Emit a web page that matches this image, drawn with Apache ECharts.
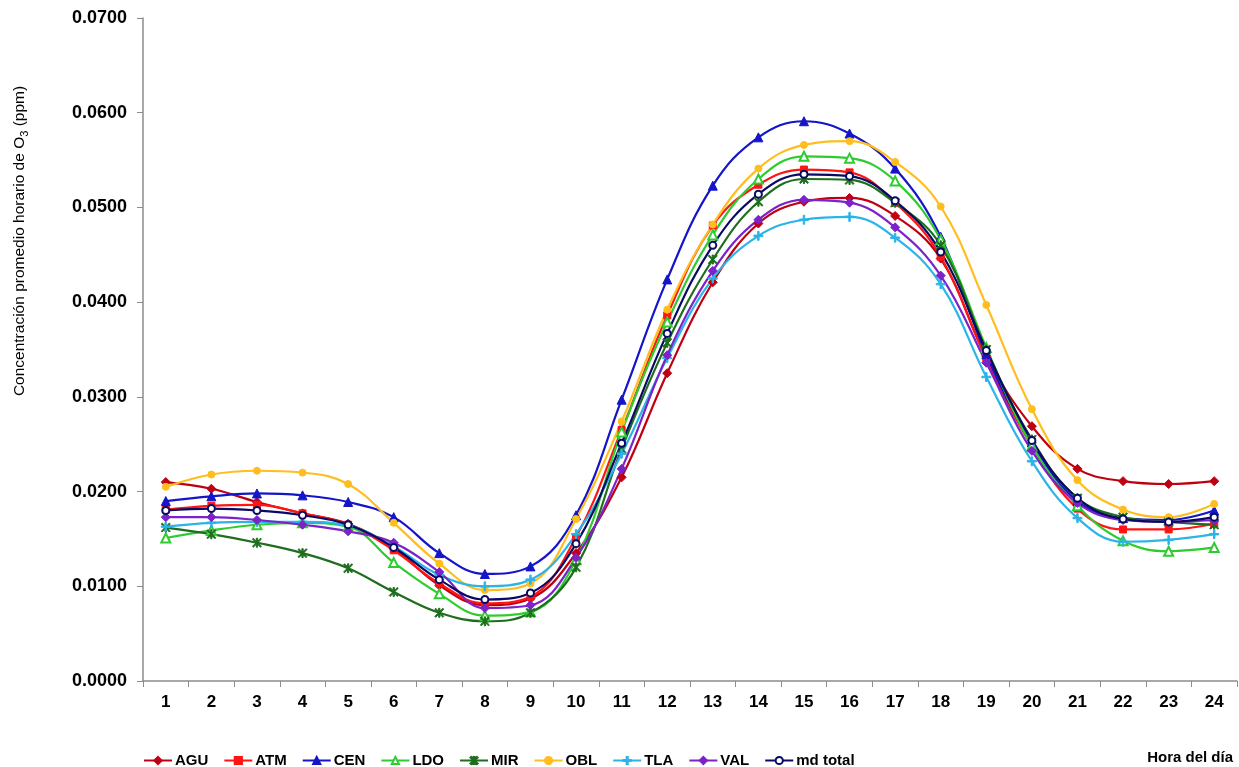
<!DOCTYPE html>
<html>
<head>
<meta charset="utf-8">
<script src="https://cdn.jsdelivr.net/npm/echarts@6/dist/echarts.min.js"></script>
<style>
html,body{margin:0;padding:0;background:#fff;}
#chart{width:1239px;height:767px;}
</style>
</head>
<body>
<div id="chart"></div>
<script>
const hours = ['1','2','3','4','5','6','7','8','9','10','11','12','13','14','15','16','17','18','19','20','21','22','23','24'];
const yTicks = [0, 0.01, 0.02, 0.03, 0.04, 0.05, 0.06, 0.07];

const AGU = [0.0210,0.0203,0.0189,0.0177,0.0166,0.0140,0.0101,0.0080,0.0087,0.0135,0.0215,0.0325,0.0421,0.0483,0.0506,0.0510,0.0491,0.0446,0.0343,0.0269,0.0224,0.0211,0.0208,0.0211];
const ATM = [0.0181,0.0185,0.0186,0.0177,0.0165,0.0138,0.0103,0.0082,0.0089,0.0152,0.0265,0.0386,0.0481,0.0524,0.0540,0.0537,0.0505,0.0448,0.0340,0.0248,0.0182,0.0160,0.0160,0.0166];
const CEN = [0.0190,0.0195,0.0198,0.0196,0.0189,0.0173,0.0135,0.0113,0.0121,0.0175,0.0297,0.0424,0.0523,0.0574,0.0591,0.0578,0.0541,0.0469,0.0345,0.0252,0.0190,0.0172,0.0170,0.0180];
const LDO = [0.0151,0.0159,0.0165,0.0167,0.0163,0.0125,0.0092,0.0069,0.0073,0.0128,0.0263,0.0379,0.0471,0.0530,0.0554,0.0552,0.0528,0.0466,0.0352,0.0248,0.0185,0.0148,0.0137,0.0141];
const MIR = [0.0162,0.0155,0.0146,0.0135,0.0119,0.0094,0.0072,0.0063,0.0072,0.0120,0.0245,0.0357,0.0445,0.0506,0.0530,0.0529,0.0505,0.0460,0.0350,0.0255,0.0193,0.0173,0.0168,0.0165];
const OBL = [0.0205,0.0218,0.0222,0.0220,0.0208,0.0167,0.0124,0.0096,0.0103,0.0171,0.0274,0.0392,0.0482,0.0541,0.0566,0.0570,0.0548,0.0501,0.0397,0.0287,0.0212,0.0181,0.0173,0.0187];
const TLA = [0.0163,0.0167,0.0168,0.0168,0.0164,0.0142,0.0112,0.0100,0.0107,0.0155,0.0240,0.0341,0.0425,0.0470,0.0487,0.0490,0.0468,0.0419,0.0321,0.0232,0.0172,0.0147,0.0149,0.0155];
const VAL = [0.0173,0.0173,0.0170,0.0165,0.0158,0.0146,0.0115,0.0077,0.0080,0.0130,0.0224,0.0344,0.0433,0.0487,0.0508,0.0505,0.0479,0.0428,0.0336,0.0243,0.0188,0.0170,0.0168,0.0170];
const MD_TOTAL = [0.0180,0.0182,0.0180,0.0175,0.0165,0.0141,0.0107,0.0086,0.0093,0.0145,0.0251,0.0367,0.0460,0.0514,0.0535,0.0533,0.0507,0.0453,0.0349,0.0254,0.0193,0.0171,0.0168,0.0173];

const FONT = '"Liberation Sans", Arial, sans-serif';
const STAR = 'path://M0,1L1,0L10,9L9,10Z M9,0L10,1L1,10L0,9Z M4.3,0L5.7,0L5.7,10L4.3,10Z';
const PLUS = 'path://M4.2,0L5.8,0L5.8,4.2L10,4.2L10,5.8L5.8,5.8L5.8,10L4.2,10L4.2,5.8L0,5.8L0,4.2L4.2,4.2Z';

function mk(name, data, color, symbol, size, extra) {
  return Object.assign({
    name: name,
    type: 'line',
    data: data,
    smooth: 0.4,
    symbol: symbol,
    symbolSize: size,
    showAllSymbol: true,
    lineStyle: { color: color, width: 2.2 },
    itemStyle: { color: color, borderColor: color, borderWidth: 1 },
    emphasis: { disabled: true }
  }, extra || {});
}

const chart = echarts.init(document.getElementById('chart'));
chart.setOption({
  animation: false,
  backgroundColor: '#ffffff',
  grid: { left: 143, right: 2, top: 18, bottom: 86, containLabel: false },
  xAxis: {
    type: 'category',
    data: hours,
    boundaryGap: true,
    axisLine: { lineStyle: { color: '#8c8c8c', width: 1.5 } },
    axisTick: { show: true, alignWithLabel: false, length: 6, lineStyle: { color: '#8c8c8c' } },
    axisLabel: { color: '#000', fontFamily: FONT, fontWeight: 'bold', fontSize: 17, margin: 13 },
    splitLine: { show: false }
  },
  yAxis: {
    type: 'value',
    min: yTicks[0],
    max: yTicks[yTicks.length - 1],
    interval: 0.01,
    axisLine: { show: true, lineStyle: { color: '#8c8c8c', width: 1.5 } },
    axisTick: { show: true, length: 6, lineStyle: { color: '#8c8c8c' } },
    axisLabel: { color: '#000', fontFamily: FONT, fontWeight: 'bold', fontSize: 18, margin: 16,
      formatter: function (v) { return v.toFixed(4); } },
    splitLine: { show: false }
  },
  legend: {
    left: 138,
    top: 748,
    itemWidth: 28,
    itemHeight: 9,
    itemGap: 15,
    textStyle: { fontFamily: FONT, fontWeight: 'bold', fontSize: 15, color: '#000', padding: [0, 0, 0, -2] },
    data: ['AGU','ATM','CEN','LDO','MIR','OBL','TLA','VAL','md total']
  },
  graphic: [{
    type: 'text',
    right: 6,
    top: 750,
    style: { text: 'Hora del día', fontFamily: FONT, fontWeight: 'bold', fontSize: 15, fill: '#000' }
  }, {
    type: 'text',
    x: 20,
    y: 241,
    rotation: Math.PI / 2,
    style: {
      text: '{a|Concentración promedio horario de O}{s|3}{a| (ppm)}',
      align: 'center',
      verticalAlign: 'middle',
      rich: {
        a: { fontFamily: FONT, fontSize: 15.5, fill: '#000' },
        s: { fontFamily: FONT, fontSize: 11, fill: '#000', padding: [9, 0, 0, 0] }
      }
    }
  }],
  series: [
    mk('AGU', AGU, '#C00012', 'diamond', 9),
    mk('ATM', ATM, '#FF1414', 'rect', 7),
    mk('CEN', CEN, '#1414C8', 'triangle', 9),
    mk('LDO', LDO, '#2ECC2E', 'emptyTriangle', 9, { itemStyle: { color: '#2ECC2E', borderColor: '#2ECC2E', borderWidth: 1.5 } }),
    mk('MIR', MIR, '#1E6E1E', STAR, 9),
    mk('OBL', OBL, '#FFBE1E', 'circle', 7),
    mk('TLA', TLA, '#2AB4E8', PLUS, 9),
    mk('VAL', VAL, '#7B22C8', 'diamond', 9),
    mk('md total', MD_TOTAL, '#0A0A64', 'emptyCircle', 7, { itemStyle: { color: '#0A0A64', borderColor: '#0A0A64', borderWidth: 1.8 } })
  ]
});
</script>
</body>
</html>
